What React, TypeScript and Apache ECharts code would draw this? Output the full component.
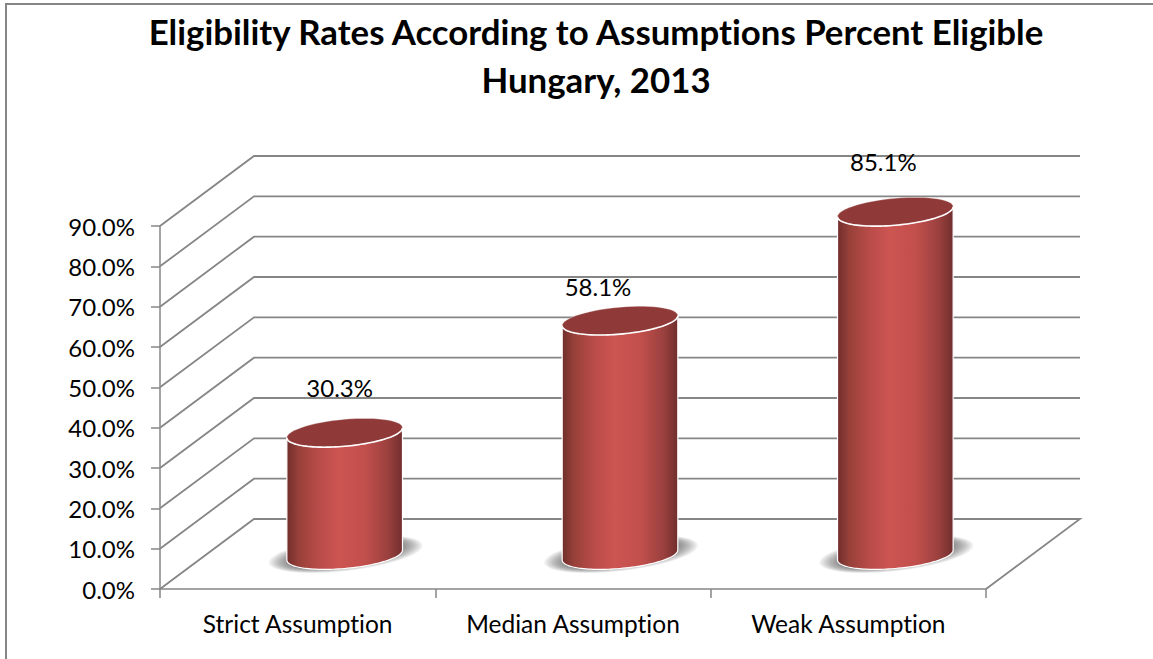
import React, { useEffect, useRef } from "react";
import * as echarts from "echarts";

const titleLines = ["Eligibility Rates According to Assumptions Percent Eligible", "Hungary, 2013"];
const categories = ["Strict Assumption", "Median Assumption", "Weak Assumption"];
const eligibility = [30.3, 58.1, 85.1];
const valueTicks = [0, 10, 20, 30, 40, 50, 60, 70, 80, 90];

const FONT = "Lato";
const GRAY = "#868686";
const DX = 94;
const DY = 70;
const SHADOW_LAYERS = 11;
const labelShift = [[-5, -32], [-22, -21], [-12, -37]];

function ellipsePts(cx: number, cy: number, a: number, b: number, k: number, from: number, to: number) {
  const pts: number[][] = [];
  const n = 60;
  for (let i = 0; i <= n; i++) {
    const t = from + ((to - from) * i) / n;
    pts.push([cx + a * Math.cos(t), cy + b * Math.sin(t) - k * Math.cos(t)]);
  }
  return pts;
}

export default function App() {
  const ref = useRef<HTMLDivElement>(null);
  useEffect(() => {
    document.body.style.margin = "0";
    const chart = echarts.init(ref.current!, undefined, { renderer: "svg" });
    chart.setOption({
      animation: false,
      backgroundColor: "#ffffff",
      title: {
        text: titleLines.join("\n"),
        left: 591,
        top: 2,
        textAlign: "center",
        textStyle: { fontFamily: FONT, fontSize: 34.8, fontWeight: "bold", color: "#000", lineHeight: 48 },
      },
      grid: { left: 160, right: 167, top: 226, bottom: 70 },
      xAxis: {
        type: "category",
        data: categories,
        axisLine: { lineStyle: { color: GRAY, width: 1.5 } },
        axisTick: { show: true, interval: 0, alignWithLabel: false, length: 9, lineStyle: { color: GRAY, width: 1.5 } },
        axisLabel: { interval: 0, fontFamily: FONT, fontSize: 24.5, color: "#000", margin: 22 },
      },
      yAxis: {
        type: "value",
        min: 0,
        max: 90,
        interval: 10,
        splitLine: { show: false },
        axisLine: { show: true, lineStyle: { color: GRAY, width: 1.5 } },
        axisTick: { show: true, length: 9, lineStyle: { color: GRAY, width: 1.5 } },
        axisLabel: {
          fontFamily: FONT,
          fontSize: 24,
          color: "#000",
          margin: 25,
          formatter: (v: number) => v.toFixed(1) + "%",
        },
      },
      graphic: [
        {
          type: "polyline",
          silent: true,
          shape: { points: [[6, 659], [6, 4], [1153, 4]] },
          style: { stroke: GRAY, lineWidth: 2, fill: "none" },
        },
      ],
      series: [
        {
          type: "custom",
          z: 1,
          silent: true,
          data: valueTicks.map((v) => [0, v]),
          encode: { x: 0, y: 1 },
          renderItem: (params: any, api: any) => {
            const v = api.value(1);
            const y = api.coord([0, v])[1];
            const x0 = params.coordSys.x;
            const x1 = x0 + params.coordSys.width;
            const points = [[x0, y], [x0 + DX, y - DY], [x1 + DX, y - DY]];
            if (v === 0) points.push([x1, y]);
            return {
              type: "polyline",
              shape: { points },
              style: { stroke: GRAY, lineWidth: 1.8, fill: "none" },
            };
          },
        },
        {
          type: "custom",
          z: 2,
          silent: true,
          data: eligibility.map((v, i) => [i, v]),
          encode: { x: 0, y: 1 },
          renderItem: (params: any, api: any) => {
            const i = api.value(0);
            const v = api.value(1);
            const top = api.coord([i, v]);
            const base = api.coord([i, 0]);
            const a = api.size([1, 0])[0] * 0.21;
            const cx = top[0] + DX / 2;
            const ty = top[1] - DY / 2 + 1;
            const by = base[1] - DY / 2 + 1;
            const b = 13.5;
            const k = 5;
            const front = ellipsePts(cx, by, a, b, k, Math.PI, 0);
            const body = [[cx - a, ty + k], ...front, [cx + a, ty - k]];
            const fill = new echarts.graphic.LinearGradient(0, 0, 1, 0, [
              { offset: 0, color: "#702e2d" },
              { offset: 0.1, color: "#974039" },
              { offset: 0.27, color: "#b84b48" },
              { offset: 0.45, color: "#cd5552" },
              { offset: 0.68, color: "#c14f4c" },
              { offset: 0.88, color: "#99403e" },
              { offset: 1, color: "#702e2d" },
            ]);
            const labelPos = labelShift[params.dataIndex];
            const shadowLayers = Array.from({ length: SHADOW_LAYERS }, (_, j) => ({
              type: "polygon",
              shape: { points: ellipsePts(cx + 1, by - 1, a + 19 - j * 1.9, b + 3.5 - j * 0.5, 8.5, 0, Math.PI * 2) },
              style: { fill: "rgba(70,70,70,0.075)" },
            }));
            return {
              type: "group",
              children: [
                ...shadowLayers,
                {
                  type: "polygon",
                  shape: { points: body },
                  style: { fill, stroke: "#ffffff", lineWidth: 1.2 },
                },
                {
                  type: "polygon",
                  shape: { points: ellipsePts(cx, ty, a, b, k, 0, Math.PI * 2) },
                  style: { fill: "#8f3a38", stroke: "rgba(255,255,255,0.3)", lineWidth: 1 },
                },
                {
                  type: "polyline",
                  shape: { points: ellipsePts(cx, ty, a, b, k, 0, Math.PI) },
                  style: { fill: "none", stroke: "#ffffff", lineWidth: 1.6 },
                },
                {
                  type: "text",
                  x: cx + labelPos[0],
                  y: ty - b + labelPos[1],
                  style: {
                    text: v.toFixed(1) + "%",
                    fontFamily: FONT,
                    fontSize: 24,
                    fill: "#000",
                    align: "center",
                    verticalAlign: "middle",
                  },
                },
              ],
            };
          },
        },
      ],
    });
    return () => chart.dispose();
  }, []);
  return <div ref={ref} style={{ width: 1153, height: 659, fontVariantLigatures: "none" }} />;
}
